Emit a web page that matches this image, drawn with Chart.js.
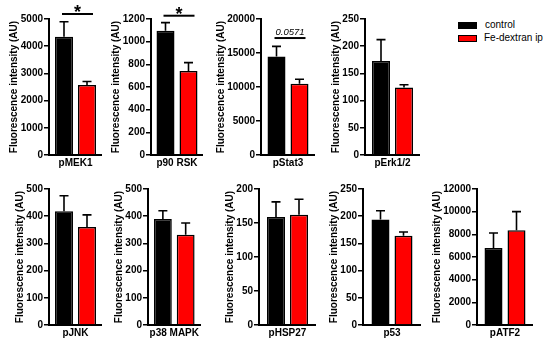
<!DOCTYPE html>
<html><head><meta charset="utf-8">
<script src="https://cdn.jsdelivr.net/npm/chart.js@4"></script>
<style>
html,body{margin:0;padding:0;background:#fff;width:550px;height:346px;overflow:hidden;position:relative;font-family:"Liberation Sans",Arial,sans-serif;}
canvas{position:absolute;}
.lg{position:absolute;font-size:10px;color:#000;line-height:12px;white-space:nowrap;}
.bx{position:absolute;box-sizing:border-box;}
</style></head><body>
<div class="bx" style="left:458px;top:22px;width:19px;height:7px;background:#000"></div>
<div class="bx" style="left:458px;top:35px;width:19px;height:7px;background:#ff0000;border:1.5px solid #000"></div>
<div class="lg" style="left:485px;top:19px">control</div>
<div class="lg" style="left:484px;top:32px">Fe-dextran ip</div>
<script>
// ---- data ----
const groups = ['control', 'Fe-dextran ip'];
const panelNames = ['pMEK1', 'p90 RSK', 'pStat3', 'pErk1/2', 'pJNK', 'p38 MAPK', 'pHSP27', 'p53', 'pATF2'];
const controlMeans = [4350, 1097, 14500, 173, 418, 390, 159, 194, 6800];
const controlErrTop = [4900, 1168, 15970, 212, 475, 420, 181, 210, 8120];
const ironMeans = [2575, 741, 10470, 124, 360, 332, 162, 164, 8350];
const ironErrTop = [2700, 815, 11150, 129, 405, 375, 185, 171, 10000];
const yMax = [5000, 1200, 20000, 250, 500, 500, 200, 250, 12000];
const yStep = [1000, 200, 5000, 50, 100, 100, 50, 50, 2000];
const sigText = ['*', '*', '0.0571', null, null, null, null, null, null];
const sigLevel = [5184, 1229, 17200, null, null, null, null, null, null];
const yTitle = 'Fluorescence intensity (AU)';

// ---- layout ----
const layout = [
  {top: 0, axis: 49, end: 102, title: 14},
  {top: 0, axis: 151, end: 203, title: 116},
  {top: 0, axis: 261, end: 315, title: 221},
  {top: 0, axis: 365, end: 420, title: 336},
  {top: 170, axis: 49, end: 102, title: 20},
  {top: 170, axis: 148, end: 201, title: 119},
  {top: 170, axis: 259, end: 316, title: 230},
  {top: 170, axis: 363, end: 421, title: 334},
  {top: 170, axis: 477, end: 533, title: 437}
];
const FONT = '"Liberation Sans", Arial, sans-serif';
const H = 175;

const errPlugin = {
  id: 'errbars',
  afterDatasetsDraw(chart, args, opts) {
    const ctx = chart.ctx, ys = chart.scales.y;
    ctx.save();
    ctx.strokeStyle = '#000';
    ctx.lineWidth = 1.6;
    chart.data.datasets.forEach((ds, di) => {
      const meta = chart.getDatasetMeta(di);
      meta.data.forEach((bar, i) => {
        const t = ys.getPixelForValue(ds.data[i]);
        const e = ys.getPixelForValue(ds.errTop[i]);
        ctx.beginPath();
        ctx.moveTo(bar.x, t); ctx.lineTo(bar.x, e);
        ctx.moveTo(bar.x - 4.5, e); ctx.lineTo(bar.x + 4.5, e);
        ctx.stroke();
      });
    });
    if (opts.text) {
      const b0 = chart.getDatasetMeta(0).data[0], b1 = chart.getDatasetMeta(1).data[0];
      const ly = ys.getPixelForValue(opts.level);
      const x1 = b0.x - 2, x2 = b1.x + 6;
      ctx.lineWidth = 2;
      ctx.beginPath(); ctx.moveTo(x1, ly); ctx.lineTo(x2, ly); ctx.stroke();
      ctx.fillStyle = '#000';
      ctx.textAlign = 'center';
      ctx.textBaseline = 'alphabetic';
      if (opts.text === '*') {
        ctx.font = 'bold 18px ' + FONT;
        ctx.fillText('*', (x1 + x2) / 2, ly + 4.5);
      } else {
        ctx.font = 'italic 9.5px ' + FONT;
        ctx.fillText(opts.text, (x1 + x2) / 2, ly - 3);
      }
    }
    ctx.restore();
  }
};

panelNames.forEach((name, p) => {
  const L = layout[p];
  const left = L.title - 6;
  const yW = L.axis - left;
  const plotW = L.end - L.axis;
  const cv = document.createElement('canvas');
  cv.width = yW + plotW; cv.height = H;
  cv.style.left = left + 'px'; cv.style.top = L.top + 'px';
  cv.style.width = cv.width + 'px'; cv.style.height = H + 'px';
  document.body.appendChild(cv);
  const catPct = 46 / plotW, barPct = 18 / 23;
  new Chart(cv, {
    type: 'bar',
    data: {
      labels: [name],
      datasets: [
        {label: groups[0], data: [controlMeans[p]], errTop: [controlErrTop[p]], backgroundColor: '#000', borderColor: '#000', borderWidth: 1.5, categoryPercentage: catPct, barPercentage: barPct},
        {label: groups[1], data: [ironMeans[p]], errTop: [ironErrTop[p]], backgroundColor: '#ff0000', borderColor: '#000', borderWidth: 1.5, categoryPercentage: catPct, barPercentage: barPct}
      ]
    },
    options: {
      responsive: false, animation: false, devicePixelRatio: 1,
      layout: {padding: {top: 19, left: 0, right: 0, bottom: 0}},
      plugins: {legend: {display: false}, tooltip: {enabled: false},
        errbars: {text: sigText[p], level: sigLevel[p]}},
      scales: {
        x: {
          grid: {display: false, drawTicks: false},
          border: {display: true, color: '#000', width: 2},
          ticks: {color: '#000', font: {family: FONT, size: 10, weight: 'bold'}, padding: 2},
          afterFit(s) { s.height = 20; }
        },
        y: {
          min: 0, max: yMax[p],
          grid: {display: true, drawOnChartArea: false, drawTicks: true, tickLength: 5, color: '#000', lineWidth: 1.5},
          border: {display: true, color: '#000', width: 2},
          ticks: {stepSize: yStep[p], color: '#000', padding: 1, font: {family: FONT, size: 10, weight: 'bold'},
            callback: v => String(v)},
          title: {display: true, text: yTitle, color: '#000', padding: 0, font: {family: FONT, size: 10, weight: 'bold'}},
          afterFit(s) { s.width = yW; }
        }
      }
    },
    plugins: [errPlugin]
  });
});
</script>
</body></html>
